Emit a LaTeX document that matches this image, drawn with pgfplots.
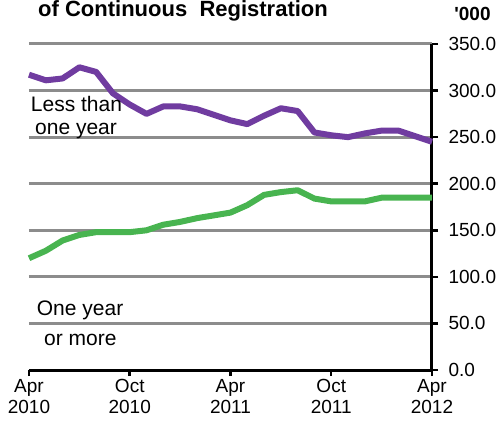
\documentclass[border=0pt]{standalone}
\usepackage{pgfplots}
\pgfplotsset{compat=1.18}
\usepackage{fontspec}
\setmainfont{Liberation Sans}

\definecolor{lessyr}{RGB}{112,60,160}
\definecolor{moreyr}{RGB}{72,180,80}
\definecolor{gridgray}{RGB}{140,140,140}

\pgfplotstableread{
m   v
0   317
1   311
2   313
3   325
4   320
5   297
6   285
7   275
8   283
9   283
10  280
11  274
12  268
13  264
14  273
15  281
16  278
17  255
18  252
19  250
20  254
21  257
22  257
23  251
24  245
}\lessthan

\pgfplotstableread{
m   v
0   120
1   128
2   139
3   145
4   148
5   148
6   148
7   150
8   156
9   159
10  163
11  166
12  169
13  177
14  188
15  191
16  193
17  184
18  181
19  181
20  181
21  185
22  185
23  185
24  185
}\ormore

\begin{document}
\begin{tikzpicture}
\clip (-29pt,-59pt) rectangle (472pt,370pt);
\begin{axis}[
    scale only axis,
    width=403pt, height=326pt,
    xmin=0, xmax=24, ymin=0, ymax=350,
    axis x line=bottom, axis y line=right,
    axis line style={-, line width=3pt, black},
    xtick={0,6,12,18,24},
    xticklabels={Apr\\2010, Oct\\2010, Apr\\2011, Oct\\2011, Apr\\2012},
    xticklabel style={align=center, font=\fontsize{19}{21}\selectfont},
    ytick={0,50,...,350},
    yticklabel style={font=\fontsize{19}{22}\selectfont, xshift=7pt},
    /pgf/number format/assume math mode=true,
    /pgf/number format/.cd, fixed, fixed zerofill, precision=1, /pgfplots/.cd,
    tick align=outside,
    major tick length=6pt,
    tick style={line width=2.5pt, black},
    ymajorgrids,
    major grid style={line width=3pt, gridgray},
    clip=false,
]
\addplot[lessyr, line width=6pt, line join=round] table[x=m, y=v] {\lessthan};
\addplot[moreyr, line width=6pt, line join=round] table[x=m, y=v] {\ormore};
\end{axis}
\node[anchor=base west, inner sep=0pt, font=\fontsize{22}{24}\selectfont\bfseries] at (9pt,353pt) {of Continuous\ \ Registration};
\node[anchor=base, inner sep=0pt, font=\fontsize{19}{21}\selectfont\bfseries] at (443.5pt,349pt) {\textquotesingle000};
\node[anchor=base west, inner sep=0pt, font=\fontsize{21}{23}\selectfont] at (1.7pt,258.3pt) {Less than};
\node[anchor=base west, inner sep=0pt, font=\fontsize{21}{23}\selectfont] at (6pt,236pt) {one year};
\node[anchor=base west, inner sep=0pt, font=\fontsize{21}{23}\selectfont] at (7.7pt,55pt) {One year};
\node[anchor=base west, inner sep=0pt, font=\fontsize{21}{23}\selectfont] at (15pt,25pt) {or more};
\end{tikzpicture}
\end{document}
